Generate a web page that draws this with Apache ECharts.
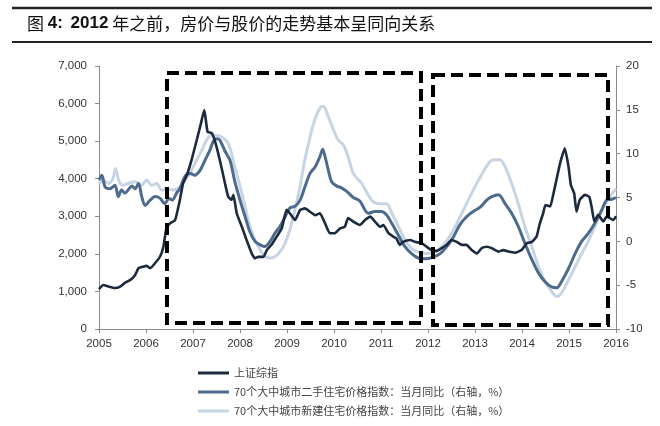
<!DOCTYPE html>
<html>
<head>
<meta charset="utf-8">
<script src="https://cdn.jsdelivr.net/npm/echarts@6/dist/echarts.min.js"></script>
<style>
html,body{margin:0;padding:0;background:#fff;}
#c{width:660px;height:426px;}
</style>
</head>
<body>
<div id="c"></div>
<script>
// ---- data ----
const seriesNames = ['上证综指', '70个大中城市二手住宅价格指数：当月同比（右轴，%）', '70个大中城市新建住宅价格指数：当月同比（右轴，%）'];
const xTickYears = [2005, 2016];

const shYears = [2005.00,2005.09,2005.20,2005.34,2005.45,2005.55,2005.66,2005.77,2005.84,2005.94,
2006.01,2006.09,2006.19,2006.30,2006.37,2006.44,2006.51,2006.62,2006.72,2006.79,
2006.87,2006.97,2007.08,2007.17,2007.24,2007.31,2007.40,2007.47,2007.57,2007.68,
2007.75,2007.82,2007.86,2007.93,2008.04,2008.14,2008.25,2008.32,2008.39,2008.50,
2008.57,2008.67,2008.78,2008.89,2008.99,2009.06,2009.17,2009.28,2009.38,2009.49,
2009.60,2009.70,2009.81,2009.91,2010.02,2010.13,2010.23,2010.30,2010.41,2010.55,
2010.66,2010.77,2010.87,2010.98,2011.05,2011.16,2011.26,2011.33,2011.40,2011.47,
2011.62,2011.72,2011.87,2011.97,2012.08,2012.19,2012.29,2012.40,2012.50,2012.61,
2012.72,2012.82,2012.93,2013.04,2013.14,2013.25,2013.36,2013.50,2013.60,2013.71,
2013.85,2013.99,2014.10,2014.21,2014.31,2014.38,2014.45,2014.50,2014.60,2014.67,
2014.74,2014.81,2014.91,2014.99,2015.04,2015.11,2015.16,2015.23,2015.34,2015.43,
2015.48,2015.54,2015.62,2015.73,2015.80,2015.87,2015.94,2016.00];
const shValues = [1060,1170,1130,1090,1130,1230,1300,1440,1620,1660,
1680,1620,1750,1930,2190,2720,2810,2900,3430,3880,
4100,4500,5030,5480,5830,5250,5210,4990,4500,3880,
3520,3440,3570,3080,2720,2370,2010,1880,1920,1920,
2100,2240,2460,2680,3170,3080,2900,3170,3210,3120,
3030,3080,2810,2550,2550,2680,2720,2950,2860,2770,
2900,2990,2860,2720,2770,2550,2460,2410,2240,2320,
2370,2320,2280,2190,2100,2080,2150,2240,2370,2320,
2240,2240,2100,2010,2150,2190,2150,2060,2100,2060,
2030,2100,2280,2320,2460,2810,3080,3300,3260,3610,
4010,4410,4810,4320,3830,3610,3120,3440,3570,3520,
3260,2860,3040,2860,2990,2950,2900,3000];

const usedYears = [2005.00,2005.06,2005.13,2005.23,2005.34,2005.41,2005.48,2005.55,2005.62,2005.70,
2005.77,2005.84,2005.91,2005.98,2006.09,2006.19,2006.30,2006.40,2006.49,2006.56,
2006.65,2006.72,2006.83,2006.94,2007.04,2007.15,2007.26,2007.36,2007.43,2007.50,
2007.57,2007.68,2007.79,2007.89,2008.00,2008.11,2008.21,2008.32,2008.43,2008.53,
2008.64,2008.74,2008.85,2008.96,2009.06,2009.17,2009.28,2009.38,2009.49,2009.60,
2009.70,2009.76,2009.81,2009.88,2009.95,2010.06,2010.16,2010.27,2010.41,2010.55,
2010.73,2010.87,2011.01,2011.12,2011.23,2011.37,2011.51,2011.65,2011.79,2011.94,
2012.11,2012.26,2012.40,2012.54,2012.68,2012.82,2012.96,2013.11,2013.25,2013.36,
2013.50,2013.64,2013.78,2013.92,2014.06,2014.21,2014.35,2014.49,2014.63,2014.74,
2014.84,2014.99,2015.13,2015.27,2015.41,2015.55,2015.70,2015.80,2015.91,2016.00];
const usedValues = [7.0,7.55,6.2,6.0,6.4,5.1,5.85,5.5,5.85,6.3,
6.0,6.6,5.1,4.1,4.7,5.1,4.9,4.3,4.9,4.7,
5.5,6.0,7.4,7.75,7.55,8.1,9.3,10.4,11.4,11.7,
11.55,10.3,9.2,6.8,4.7,2.8,1.1,0.0,-0.4,-0.6,
0.0,0.9,1.7,2.8,3.8,4.0,4.7,6.2,7.75,8.5,
9.65,10.5,9.65,8.1,6.8,6.3,6.1,5.7,5.0,4.6,
3.2,3.4,3.4,3.0,2.05,0.7,-0.6,-1.4,-1.9,-2.0,
-1.8,-1.4,-0.6,0.5,1.9,2.8,3.4,3.9,4.7,5.1,
5.3,4.3,3.2,1.7,-0.2,-2.1,-3.6,-4.6,-5.2,-5.3,
-4.6,-3.1,-1.4,0.0,0.9,2.05,3.6,4.7,4.8,5.0];

const newYears = [2005.00,2005.09,2005.20,2005.30,2005.35,2005.43,2005.52,2005.62,2005.77,2005.91,
2006.01,2006.12,2006.23,2006.33,2006.44,2006.58,2006.72,2006.83,2006.97,2007.08,
2007.19,2007.29,2007.40,2007.50,2007.61,2007.72,2007.79,2007.89,2008.00,2008.11,
2008.21,2008.32,2008.43,2008.53,2008.64,2008.74,2008.85,2008.96,2009.06,2009.17,
2009.28,2009.38,2009.49,2009.60,2009.70,2009.77,2009.88,2009.99,2010.09,2010.20,
2010.30,2010.41,2010.52,2010.59,2010.80,2010.94,2011.12,2011.23,2011.37,2011.51,
2011.65,2011.79,2011.97,2012.15,2012.33,2012.50,2012.72,2012.93,2013.14,2013.32,
2013.43,2013.53,2013.64,2013.78,2013.92,2014.06,2014.21,2014.35,2014.49,2014.63,
2014.74,2014.84,2014.99,2015.13,2015.27,2015.41,2015.55,2015.70,2015.84,2016.00];
const newValues = [6.6,7.0,6.6,7.2,8.3,6.8,6.4,6.6,6.8,6.4,
7.0,6.4,6.6,5.85,6.0,5.85,6.2,7.0,8.1,9.3,
10.4,11.55,12.1,12.1,11.9,11.4,10.6,8.5,6.3,3.9,
1.7,0.15,-1.0,-1.75,-1.9,-1.75,-1.2,-0.2,1.3,3.6,
6.3,9.3,11.9,14.0,15.2,15.4,14.2,12.7,11.55,11.0,
9.65,7.75,7.0,6.6,4.7,4.3,4.3,3.2,1.7,0.15,
-0.8,-1.2,-1.4,-1.2,-0.4,0.9,3.2,5.5,7.6,9.1,
9.3,9.3,8.5,6.6,4.3,1.7,-0.6,-2.9,-4.6,-5.7,
-6.3,-5.9,-4.4,-2.9,-1.4,0.0,1.7,3.6,4.9,6.0];

const zip = (xs, ys) => xs.map((x, i) => [x, ys[i]]);

const chart = echarts.init(document.getElementById('c'), null, {renderer: 'canvas'});
const axisGray = '#8c8c8c';
const labelColor = '#333';
const numFont = 'Liberation Sans, Arial, sans-serif';

chart.setOption({
  animation: false,
  backgroundColor: '#fff',
  title: {
    left: 22, top: 10,
    text: '图 {b|4:}  {b|2012} 年之前，房价与股价的走势基本呈同向关系',
    textStyle: {
      fontSize: 17, color: '#111', fontWeight: 'normal',
      fontFamily: 'Noto Sans CJK SC',
      rich: { b: { fontSize: 17, fontWeight: 'bold', color: '#111', fontFamily: numFont } }
    }
  },
  grid: { left: 99, right: 44, top: 66, bottom: 97 },
  legend: {
    orient: 'vertical', left: 193, top: 361, padding: 5,
    icon: 'rect', itemWidth: 31, itemHeight: 3, itemGap: 5,
    data: seriesNames,
    textStyle: { fontSize: 11, lineHeight: 14, color: '#444', fontFamily: 'Noto Sans CJK SC' }
  },
  xAxis: {
    type: 'value', min: xTickYears[0], max: xTickYears[1], interval: 1,
    axisLine: { lineStyle: { color: axisGray, width: 1 } },
    axisTick: { show: true, length: 4, lineStyle: { color: axisGray } },
    splitLine: { show: false },
    axisLabel: { fontSize: 11.5, color: labelColor, margin: 9, fontFamily: numFont, formatter: v => String(v) }
  },
  yAxis: [
    {
      type: 'value', min: 0, max: 7000, interval: 1000, position: 'left',
      axisLine: { show: true, lineStyle: { color: axisGray } },
      axisTick: { show: true, length: 4, lineStyle: { color: axisGray } },
      splitLine: { show: false },
      axisLabel: { fontSize: 11.5, color: labelColor, margin: 12, fontFamily: numFont,
        formatter: v => v.toLocaleString('en-US') }
    },
    {
      type: 'value', min: -10, max: 20, interval: 5, position: 'right',
      axisLine: { show: true, lineStyle: { color: axisGray } },
      axisTick: { show: true, length: 4, lineStyle: { color: axisGray } },
      splitLine: { show: false },
      axisLabel: { fontSize: 11.5, color: labelColor, margin: 10, fontFamily: numFont }
    }
  ],
  series: [
    {
      name: seriesNames[2], type: 'line', yAxisIndex: 1, symbol: 'none', smooth: 0.3, z: 2,
      data: zip(newYears, newValues),
      lineStyle: { color: '#c6d4e4', width: 3 }, itemStyle: { color: '#c6d4e4' }
    },
    {
      name: seriesNames[1], type: 'line', yAxisIndex: 1, symbol: 'none', smooth: 0.3, z: 3,
      data: zip(usedYears, usedValues),
      lineStyle: { color: '#4d6b8c', width: 3 }, itemStyle: { color: '#4d6b8c' }
    },
    {
      name: seriesNames[0], type: 'line', yAxisIndex: 0, symbol: 'none', smooth: 0.15, z: 4,
      data: zip(shYears, shValues),
      lineStyle: { color: '#1c2a3e', width: 2.6 }, itemStyle: { color: '#1c2a3e' }
    }
  ],
  graphic: [
    { type: 'line', shape: { x1: 12, y1: 8, x2: 652, y2: 8 }, style: { stroke: '#222', lineWidth: 2.5 } },
    { type: 'line', shape: { x1: 12, y1: 42, x2: 652, y2: 42 }, style: { stroke: '#222', lineWidth: 2 } },
    { type: 'rect', z: 10, shape: { x: 167, y: 73, width: 254, height: 250 },
      style: { fill: null, stroke: '#000', lineWidth: 4, lineDash: [12, 6] } },
    { type: 'rect', z: 10, shape: { x: 433, y: 75, width: 175, height: 250 },
      style: { fill: null, stroke: '#000', lineWidth: 4, lineDash: [12, 6] } }
  ]
});
</script>
</body>
</html>
